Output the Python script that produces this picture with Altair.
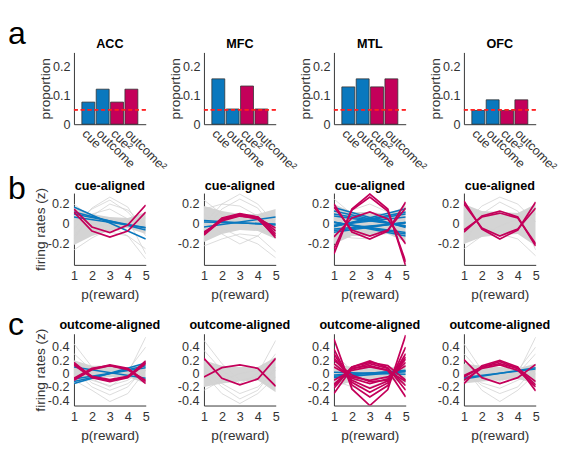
import altair as alt
import pandas as pd

FONT = "Liberation Sans"
BLUE = "#0a78be"
MAG = "#c4005a"
GRAY_BAND = "#d4d4d4"
GRAY_LINE = "#d2d2d2"
AXIS_COL = "#333333"

XS = [1, 2, 3, 4, 5]
REGIONS = ["ACC", "MFC", "MTL", "OFC"]

# ---------------- row a: proportions ----------------
BAR_CATS = ["cue", "outcome", "cue²", "outcome²"]
BAR_KIND = ["lin", "lin", "quad", "quad"]
ACC_BARS = [0.077, 0.122, 0.077, 0.122]
MFC_BARS = [0.158, 0.053, 0.133, 0.053]
MTL_BARS = [0.130, 0.158, 0.130, 0.158]
OFC_BARS = [0.048, 0.085, 0.048, 0.085]
CHANCE = 0.05

# ---------------- row b: cue-aligned ----------------
CUE_ACC_LO = [-0.21, -0.12, -0.07, -0.04, -0.10]
CUE_ACC_HI = [0.17, 0.10, 0.07, 0.06, 0.12]
CUE_ACC_GRAY = [
    [-0.05, 0.16, 0.27, 0.17, -0.12],
    [0.02, 0.15, 0.24, 0.12, -0.08],
    [-0.12, 0.08, 0.20, 0.14, -0.02],
    [0.06, 0.00, -0.02, -0.12, -0.35],
    [-0.26, -0.14, -0.05, 0.02, 0.06],
    [0.20, 0.06, -0.08, -0.12, -0.25],
    [-0.15, 0.10, 0.15, 0.05, -0.30],
]
CUE_ACC_BLUE_START = [0.17, 0.12, 0.10, 0.07]
CUE_ACC_BLUE_END = [-0.15, -0.06, -0.04, -0.035]
CUE_ACC_MAG = [
    [0.15, -0.03, -0.085, -0.01, 0.19],
    [0.12, -0.07, -0.13, -0.07, 0.12],
]

CUE_MFC_LO = [-0.18, -0.10, -0.06, -0.07, -0.15]
CUE_MFC_HI = [0.18, 0.13, 0.10, 0.10, 0.15]
CUE_MFC_GRAY = [
    [0.00, 0.20, 0.30, 0.20, 0.00],
    [-0.06, 0.15, 0.25, 0.16, -0.08],
    [0.06, -0.10, -0.20, -0.12, 0.05],
    [0.10, -0.04, -0.13, -0.20, -0.34],
    [0.24, 0.10, 0.00, -0.05, -0.10],
    [-0.22, -0.15, -0.10, -0.12, -0.28],
    [0.15, 0.20, 0.18, 0.08, -0.05],
]
CUE_MFC_BLUE_START = [-0.03, 0.035, 0.02]
CUE_MFC_BLUE_END = [0.07, -0.01, 0.00]
CUE_MFC_MAG = [
    [-0.10, 0.05, 0.10, 0.06, -0.14],
    [-0.10, 0.06, 0.105, 0.07, -0.10],
    [-0.09, 0.04, 0.09, 0.07, -0.07],
    [-0.08, 0.03, 0.08, 0.06, -0.04],
    [-0.11, 0.04, 0.085, 0.05, -0.12],
]

CUE_MTL_LO = [-0.20, -0.12, -0.12, -0.10, -0.18]
CUE_MTL_HI = [0.20, 0.12, 0.12, 0.10, 0.18]
CUE_MTL_GRAY = [
    [0.00, 0.14, 0.20, 0.12, -0.10],
    [-0.10, -0.14, -0.15, -0.05, 0.20],
    [0.25, 0.10, 0.02, 0.00, 0.10],
    [-0.22, -0.05, 0.05, 0.10, 0.12],
]
CUE_MTL_BLUE_START = [0.165, 0.13, 0.10, 0.08, -0.066, -0.083, -0.05,
                      -0.027, -0.021, -0.018, 0.018, 0.015, 0.02, -0.012]
CUE_MTL_BLUE_END = [-0.035, -0.028, -0.021, -0.017, 0.014, 0.018, 0.01,
                    0.153, 0.119, 0.10, -0.10, -0.085, -0.12, 0.07]
CUE_MTL_MAG = [
    [0.20, -0.08, -0.15, -0.07, 0.22],
    [0.17, -0.06, -0.12, -0.06, 0.16],
    [-0.30, 0.15, 0.30, 0.15, -0.42],
    [-0.25, 0.14, 0.27, 0.13, -0.38],
    [-0.13, 0.06, 0.12, 0.05, -0.20],
]

CUE_OFC_LO = [-0.20, -0.13, -0.11, -0.10, -0.22]
CUE_OFC_HI = [0.20, 0.13, 0.12, 0.11, 0.20]
CUE_OFC_GRAY = [
    [0.00, 0.18, 0.27, 0.20, 0.02],
    [-0.20, 0.10, 0.22, 0.13, -0.26],
    [0.20, 0.00, -0.10, -0.15, -0.32],
    [-0.25, -0.12, -0.02, 0.05, 0.10],
]
CUE_OFC_BLUE_START = []
CUE_OFC_BLUE_END = []
CUE_OFC_MAG = [
    [0.23, -0.05, -0.15, -0.06, 0.22],
    [0.20, -0.04, -0.12, -0.05, 0.16],
    [-0.08, 0.08, 0.13, 0.07, -0.22],
    [-0.06, 0.07, 0.11, 0.06, -0.20],
]

# ---------------- row c: outcome-aligned ----------------
OUT_ACC_LO = [-0.16, -0.08, -0.05, -0.05, -0.15]
OUT_ACC_HI = [0.20, 0.12, 0.12, 0.08, 0.15]
OUT_ACC_GRAY = [
    [0.05, -0.20, -0.32, -0.20, 0.10],
    [0.10, -0.14, -0.25, -0.15, 0.05],
    [0.00, -0.10, -0.18, -0.10, 0.10],
    [0.45, 0.10, -0.05, 0.00, 0.20],
    [0.10, -0.08, -0.20, 0.00, 0.55],
    [0.30, 0.05, -0.10, 0.05, 0.40],
    [-0.10, -0.25, -0.42, -0.30, 0.05],
]
OUT_ACC_BLUE_START = [0.10, -0.15, -0.12, -0.08]
OUT_ACC_BLUE_END = [-0.07, 0.16, 0.12, 0.09]
OUT_ACC_MAG = [
    [0.17, -0.05, -0.10, -0.05, 0.19],
    [0.13, -0.06, -0.12, -0.06, 0.15],
    [0.15, -0.04, -0.09, -0.04, 0.17],
    [-0.08, 0.07, 0.13, 0.08, -0.12],
    [-0.10, 0.06, 0.12, 0.07, -0.15],
    [-0.07, 0.08, 0.12, 0.06, -0.10],
]

OUT_MFC_LO = [-0.20, -0.15, -0.12, -0.10, -0.28]
OUT_MFC_HI = [0.20, 0.12, 0.10, 0.10, 0.25]
OUT_MFC_GRAY = [
    [0.00, -0.30, -0.45, -0.30, -0.05],
    [0.10, -0.15, -0.30, -0.20, 0.05],
    [0.50, 0.15, -0.10, -0.05, 0.30],
    [0.35, 0.05, -0.15, 0.00, 0.50],
    [0.05, -0.20, -0.38, -0.25, 0.10],
    [-0.25, -0.10, 0.00, 0.05, 0.20],
]
OUT_MFC_BLUE_START = []
OUT_MFC_BLUE_END = []
OUT_MFC_MAG = [
    [0.23, -0.07, -0.17, -0.08, 0.23],
    [-0.05, 0.09, 0.13, 0.08, -0.19],
]

OUT_MTL_LO = [-0.20, -0.12, -0.10, -0.08, -0.15]
OUT_MTL_HI = [0.15, 0.10, 0.10, 0.08, 0.15]
OUT_MTL_GRAY = [
    [0.30, 0.05, -0.05, 0.00, 0.20],
    [-0.10, -0.20, -0.20, -0.10, 0.10],
]
OUT_MTL_BLUE_START = [-0.04, -0.02, -0.06, 0.02]
OUT_MTL_BLUE_END = [0.05, 0.04, 0.03, -0.01]
OUT_MTL_MAG = [
    [0.52, -0.23, -0.48, -0.24, 0.58],
    [0.37, -0.17, -0.35, -0.18, 0.40],
    [0.30, -0.13, -0.28, -0.14, 0.30],
    [0.24, -0.10, -0.22, -0.11, 0.22],
    [0.15, -0.07, -0.15, -0.08, 0.17],
    [0.10, -0.05, -0.10, -0.05, 0.12],
    [0.20, -0.02, -0.12, -0.10, 0.25],
    [-0.22, 0.10, 0.19, 0.09, -0.25],
    [-0.16, 0.07, 0.15, 0.08, -0.18],
    [-0.10, 0.05, 0.10, 0.05, -0.12],
    [-0.30, 0.08, 0.12, 0.05, -0.35],
    [-0.18, 0.10, 0.17, 0.12, -0.10],
]

OUT_OFC_LO = [-0.15, -0.12, -0.10, -0.08, -0.15]
OUT_OFC_HI = [0.15, 0.12, 0.10, 0.08, 0.15]
OUT_OFC_GRAY = [
    [0.10, -0.25, -0.42, -0.25, 0.00],
    [0.05, -0.18, -0.30, -0.20, 0.10],
    [0.00, -0.14, -0.22, -0.10, 0.05],
    [0.20, -0.05, -0.10, 0.00, 0.55],
    [0.45, 0.05, -0.10, 0.05, 0.40],
    [0.30, 0.00, -0.12, 0.00, 0.30],
]
OUT_OFC_BLUE_START = [-0.08, -0.06]
OUT_OFC_BLUE_END = [0.09, 0.07]
OUT_OFC_MAG = [
    [-0.15, 0.12, 0.20, 0.10, -0.26],
    [-0.05, 0.10, 0.18, 0.08, -0.17],
    [-0.03, 0.10, 0.15, 0.08, -0.12],
    [-0.10, 0.08, 0.13, 0.05, -0.20],
    [0.21, -0.06, -0.15, -0.06, 0.14],
]

CUE_YDOM = [-0.41, 0.31]
CUE_YTICKS = [-0.2, 0, 0.2]
OUT_YDOM = [-0.48, 0.60]
OUT_YTICKS = [-0.4, -0.2, 0, 0.2, 0.4]

W = 74
H = 74
LETTER_SIZE = 33


def long_df(rows):
    recs = []
    for i, r in enumerate(rows):
        for xv, yv in zip(XS, r):
            recs.append({"x": xv, "y": yv, "id": i})
    return pd.DataFrame(recs, columns=["x", "y", "id"])


def lin_df(starts, ends):
    recs = []
    for i, (s, e) in enumerate(zip(starts, ends)):
        recs.append({"x": XS[0], "y": s, "id": i})
        recs.append({"x": XS[-1], "y": e, "id": i})
    return pd.DataFrame(recs, columns=["x", "y", "id"])


ONE = pd.DataFrame({"k": [0]})


def letter_layer(ch, yrel):
    return alt.Chart(ONE).mark_text(
        text=ch, fontSize=LETTER_SIZE, font=FONT, align="left",
        baseline="alphabetic", color="black").encode(
        x=alt.value(-68), y=alt.value(yrel))


def anchor_layer():
    # white (invisible on the white page) origin anchor at the figure corner
    return alt.Chart(ONE).mark_rule(color="white", strokeWidth=0.5).encode(
        x=alt.value(-67.75), x2=alt.value(-67.75),
        y=alt.value(-38.75), y2=alt.value(-36))


def title_layer(txt, yrel):
    return alt.Chart(ONE).mark_text(
        text=txt, fontSize=13, fontWeight="bold", font=FONT, align="center",
        baseline="alphabetic", color="black").encode(
        x=alt.value(W / 2), y=alt.value(yrel))


def bar_panel(name, vals, first):
    df = pd.DataFrame({"cat": BAR_CATS, "val": vals, "kind": BAR_KIND})
    yax = alt.Axis(values=[0, 0.1, 0.2], format=".1~f",
                   title="proportion", minExtent=19, maxExtent=19,
                   titlePadding=3, labelPadding=4, labelOverlap=False)
    ysc = alt.Scale(domain=[0, 0.25], nice=False)
    x = alt.X("cat:N", sort=BAR_CATS,
              scale=alt.Scale(paddingInner=0.1, paddingOuter=0.55),
              axis=alt.Axis(title=None, labelAngle=45, labelAlign="left",
                            labelBaseline="top", labelPadding=3,
                            labelOverlap=False, labelFontSize=13))
    bars = alt.Chart(df).mark_bar(stroke="#333333", strokeWidth=0.8).encode(
        x=x, y=alt.Y("val:Q", scale=ysc, axis=yax),
        color=alt.Color("kind:N", scale=alt.Scale(domain=["lin", "quad"],
                                                  range=[BLUE, MAG]),
                        legend=None))
    rule = alt.Chart(df).mark_rule(color="#ff2020", strokeDash=[4, 3],
                                   strokeWidth=1).encode(
        y=alt.YDatum(CHANCE, scale=ysc, axis=yax))
    layers = [bars, rule, title_layer(name, -5)]
    if first:
        layers.append(letter_layer("a", -8.5))
        layers.append(anchor_layer())
    return alt.layer(*layers).properties(width=W, height=H)


def line_panel(title, toff, ydom, yticks, lo, hi, gray, bs, be, mag,
               first, letter, letter_y):
    xs = alt.Scale(domain=[1, 5], nice=False, zero=False)
    ys = alt.Scale(domain=ydom, nice=False, zero=False)
    xax = alt.Axis(values=XS, format="d", title="p(reward)", labelPadding=5,
                   minExtent=18, maxExtent=18, titlePadding=6,
                   labelFlush=False, labelOverlap=False)
    yax_kw = dict(values=yticks,
                  labelExpr="replace(format(datum.value, '.1~f'), '\u2212', '-')",
                  labelPadding=5, minExtent=24, maxExtent=24, titlePadding=3,
                  labelOverlap=False)
    if first:
        yax = alt.Axis(title="firing rates (z)", **yax_kw)
    else:
        yax = alt.Axis(title=None, **yax_kw)
    X = alt.X("x:Q", scale=xs, axis=xax)
    band = alt.Chart(pd.DataFrame({"x": XS, "lo": lo, "hi": hi})).mark_area(
        color=GRAY_BAND, clip=True).encode(
        x=X, y=alt.Y("lo:Q", scale=ys, axis=yax), y2="hi:Q")
    Y = alt.Y("y:Q", scale=ys, axis=yax)
    layers = [band]
    layers.append(alt.Chart(long_df(gray)).mark_line(
        color=GRAY_LINE, strokeWidth=0.8, clip=True).encode(
        x=X, y=Y, detail="id:N"))
    if bs:
        layers.append(alt.Chart(lin_df(bs, be)).mark_line(
            color=BLUE, strokeWidth=1.6, clip=True).encode(
            x=X, y=Y, detail="id:N"))
    layers.append(alt.Chart(long_df(mag)).mark_line(
        color=MAG, strokeWidth=1.8, clip=True).encode(
        x=X, y=Y, detail="id:N"))
    layers.append(title_layer(title, toff))
    if first:
        layers.append(letter_layer(letter, letter_y))
    return alt.layer(*layers).properties(width=W, height=H)


panels = [
    bar_panel("ACC", ACC_BARS, True),
    bar_panel("MFC", MFC_BARS, False),
    bar_panel("MTL", MTL_BARS, False),
    bar_panel("OFC", OFC_BARS, False),
    line_panel("cue-aligned", -3, CUE_YDOM, CUE_YTICKS, CUE_ACC_LO, CUE_ACC_HI,
               CUE_ACC_GRAY, CUE_ACC_BLUE_START, CUE_ACC_BLUE_END, CUE_ACC_MAG,
               True, "b", 6),
    line_panel("cue-aligned", -3, CUE_YDOM, CUE_YTICKS, CUE_MFC_LO, CUE_MFC_HI,
               CUE_MFC_GRAY, CUE_MFC_BLUE_START, CUE_MFC_BLUE_END, CUE_MFC_MAG,
               False, None, 0),
    line_panel("cue-aligned", -3, CUE_YDOM, CUE_YTICKS, CUE_MTL_LO, CUE_MTL_HI,
               CUE_MTL_GRAY, CUE_MTL_BLUE_START, CUE_MTL_BLUE_END, CUE_MTL_MAG,
               False, None, 0),
    line_panel("cue-aligned", -3, CUE_YDOM, CUE_YTICKS, CUE_OFC_LO, CUE_OFC_HI,
               CUE_OFC_GRAY, CUE_OFC_BLUE_START, CUE_OFC_BLUE_END, CUE_OFC_MAG,
               False, None, 0),
    line_panel("outcome-aligned", -4.5, OUT_YDOM, OUT_YTICKS, OUT_ACC_LO, OUT_ACC_HI,
               OUT_ACC_GRAY, OUT_ACC_BLUE_START, OUT_ACC_BLUE_END, OUT_ACC_MAG,
               True, "c", 1),
    line_panel("outcome-aligned", -4.5, OUT_YDOM, OUT_YTICKS, OUT_MFC_LO, OUT_MFC_HI,
               OUT_MFC_GRAY, OUT_MFC_BLUE_START, OUT_MFC_BLUE_END, OUT_MFC_MAG,
               False, None, 0),
    line_panel("outcome-aligned", -4.5, OUT_YDOM, OUT_YTICKS, OUT_MTL_LO, OUT_MTL_HI,
               OUT_MTL_GRAY, OUT_MTL_BLUE_START, OUT_MTL_BLUE_END, OUT_MTL_MAG,
               False, None, 0),
    line_panel("outcome-aligned", -4.5, OUT_YDOM, OUT_YTICKS, OUT_OFC_LO, OUT_OFC_HI,
               OUT_OFC_GRAY, OUT_OFC_BLUE_START, OUT_OFC_BLUE_END, OUT_OFC_MAG,
               False, None, 0),
]

chart = alt.concat(*panels, columns=4, spacing={"row": 71, "column": 60},
                   bounds="flush").properties(
    padding={"left": 0, "top": 0, "right": 0, "bottom": 0}
).configure(font=FONT).configure_view(stroke=None).configure_axis(
    domainColor=AXIS_COL, domainWidth=1, labelColor=AXIS_COL,
    titleColor=AXIS_COL, labelFontSize=13, titleFontSize=14,
    titleFontWeight="normal", ticks=False, grid=False,
    labelFont=FONT, titleFont=FONT)

chart.save("out.html", embed_options={"renderer": "svg", "actions": False})
